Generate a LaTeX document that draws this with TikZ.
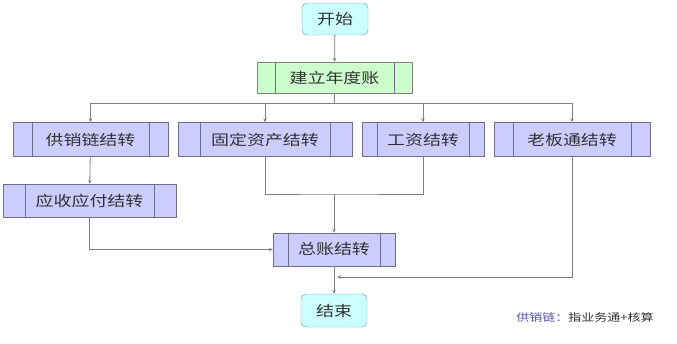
\documentclass[tikz,border=0pt]{standalone}
\usepackage{fontspec}
\setmainfont[FakeStretch=1.24]{Noto Sans CJK SC}
\usepackage{tikz}
\usetikzlibrary{arrows.meta,positioning,calc}
\definecolor{termFill}{RGB}{204,255,255}
\definecolor{termLine}{RGB}{100,150,160}
\definecolor{setupFill}{RGB}{204,255,204}
\definecolor{procFill}{RGB}{204,204,255}
\definecolor{procLine}{RGB}{110,110,140}
\definecolor{wireGray}{RGB}{128,128,128}
\definecolor{noteBlue}{RGB}{80,80,170}
\definecolor{textDark}{RGB}{50,50,50}

\begin{document}
\begin{tikzpicture}[x=1pt, y=-1pt,
        every node/.style={font=\fontsize{14.5}{16}\selectfont, text=textDark, inner sep=0pt},
        term/.style={draw=termLine, fill=termFill, rounded corners=5pt, minimum width=66, minimum height=33},
        procbox/.style={draw=procLine, fill=procFill, minimum height=34,
          path picture={\draw[procLine]
            ([xshift=#1]path picture bounding box.north west) -- ([xshift=#1]path picture bounding box.south west)
            ([xshift=-#1]path picture bounding box.north east) -- ([xshift=-#1]path picture bounding box.south east);}},
        arr/.style={-{Stealth[length=4pt,width=3.5pt]}, draw=wireGray, line width=0.8pt},
        wire/.style={draw=wireGray, line width=0.8pt}
      ]
        \useasboundingbox (0,0) rectangle (677,343);
        % Start and year setup
        \node[term, minimum height=32] (start) at (335,19) {开始};
        \node[procbox=18, fill=setupFill, draw=wireGray, minimum width=155, minimum height=31]
          (setup) at (334.5,77.5) {建立年度账};
        % Four carry-over boxes
        \node[procbox=19, minimum width=155] (scm) at (90.5,139.5) {供销链结转};
        \node[procbox=22, minimum width=174] (fixed) at (265,139.5) {固定资产结转};
        \node[procbox=15, minimum width=122] (wage) at (423,139.5) {工资结转};
        \node[procbox=19, minimum width=156] (boss) at (572,139.5) {老板通结转};
        \node[procbox=22, minimum width=173, minimum height=33] (ar) at (89.5,200.5) {应收应付结转};
        \node[procbox=15, minimum width=122, minimum height=33] (ledger) at (334,249.5) {总账结转};
        \node[term] (finish) at (334,310.5) {结束};
        % Join points
        \coordinate (merge) at (334,194);
        \coordinate (join) at (337,277);
        % Connectors
        \draw[arr] (start) -- (setup);
        \draw[arr] (setup.south) -- ++(0,10) -| (scm.north);
        \draw[arr] (setup.south) -- ++(0,10) -| (fixed.north);
        \draw[arr] (setup.south) -- ++(0,10) -| (wage.north);
        \draw[arr] (setup.south) -- ++(0,10) -| (boss.north);
        \draw[arr] (scm) -- (ar);
        \draw[wire] (fixed.south) |- (merge) -| (wage.south);
        \draw[arr] (merge) -- (ledger.north);
        \draw[arr] (ar.south) |- (ledger.west);
        \draw[arr] (ledger) -- (finish);
        \draw[arr] (boss.south) |- (join);
        % Note
        \node[font=\fontsize{10.5}{12}\selectfont] (note) at (585,317)
          {\textcolor{noteBlue}{供销链：}指业务通+核算};
      \end{tikzpicture}
\end{document}
